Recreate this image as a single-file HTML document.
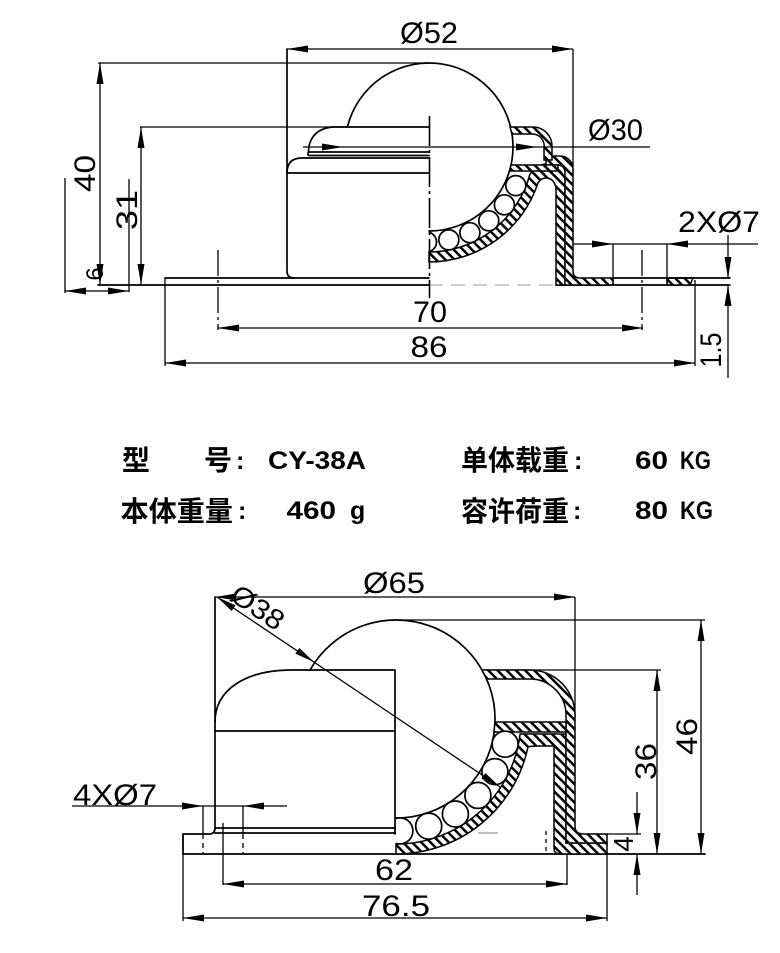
<!DOCTYPE html>
<html><head><meta charset="utf-8">
<style>
html,body{margin:0;padding:0;background:#fff;}
svg{display:block;}
.l{stroke:#000;stroke-width:1.7;fill:none;stroke-linecap:round;stroke-linejoin:round}
.d{stroke:#000;stroke-width:1.3;fill:none}
.h{stroke:#000;stroke-width:1.5;fill:url(#hp)}
.t{font-family:"Liberation Sans",sans-serif;font-size:30px;fill:#000}
.b{font-family:"Liberation Sans","Noto Sans CJK SC",sans-serif;font-weight:bold;fill:#000}
.c{font-family:"Noto Sans CJK SC","WenQuanYi Zen Hei",sans-serif;font-weight:bold;font-size:28px;fill:#000}
</style></head><body>
<svg width="780" height="953" viewBox="0 0 780 953" xmlns="http://www.w3.org/2000/svg">
<defs>
<pattern id="hp" patternUnits="userSpaceOnUse" width="6.5" height="6.5" patternTransform="rotate(-45)">
<rect width="6.5" height="6.5" fill="#fff"/><rect width="2.5" height="6.5" fill="#000"/>
</pattern>
<clipPath id="ct"><rect x="429" y="0" width="300" height="400"/></clipPath>
<clipPath id="cb"><rect x="396" y="560" width="300" height="400"/></clipPath>
</defs>
<rect width="780" height="953" fill="#fff"/>

<!-- ================= TOP DRAWING ================= -->
<line class="d" x1="287" y1="49" x2="573" y2="49"/>
<polygon points="287,49 308,45.5 308,52.5"/>
<polygon points="573,49 552,45.5 552,52.5"/>
<line class="d" x1="573" y1="49" x2="573" y2="170"/>
<line class="d" x1="98" y1="63" x2="429" y2="63"/>
<line class="d" x1="140" y1="127" x2="346" y2="127"/>
<line class="d" x1="100" y1="63" x2="100" y2="285"/>
<polygon points="100,63 96.5,84 103.5,84"/>
<polygon points="100,285 96.5,264 103.5,264"/>
<line class="d" x1="141" y1="127" x2="141" y2="285"/>
<polygon points="141,127 137.5,148 144.5,148"/>
<polygon points="141,285 137.5,264 144.5,264"/>
<line class="d" x1="65" y1="178" x2="65" y2="293"/>
<line class="d" x1="129" y1="179" x2="129" y2="292"/>
<line class="d" x1="65" y1="291" x2="129" y2="291"/>
<polygon points="65,291 86,287.5 86,294.5"/>
<polygon points="129,291 108,287.5 108,294.5"/>
<text class="t" style="font-size:24px" transform="translate(103,274) rotate(-90)" text-anchor="middle">6</text>
<text class="t" transform="translate(95,173.5) rotate(-90)" text-anchor="middle" textLength="37" lengthAdjust="spacingAndGlyphs">40</text>
<text class="t" transform="translate(137,210) rotate(-90)" text-anchor="middle" textLength="40" lengthAdjust="spacingAndGlyphs">31</text>
<text class="t" x="429" y="43" text-anchor="middle" textLength="58" lengthAdjust="spacingAndGlyphs">Ø52</text>
<text class="t" x="615.5" y="140" text-anchor="middle" textLength="55" lengthAdjust="spacingAndGlyphs">Ø30</text>
<text class="t" x="719" y="232" text-anchor="middle" textLength="82" lengthAdjust="spacingAndGlyphs">2XØ7</text>

<path class="l" d="M287 49 L287 271 Q287 278 294 278"/>
<line class="l" x1="165" y1="278" x2="429" y2="278"/>
<line class="l" x1="98" y1="285" x2="429" y2="285"/>
<line x1="429" y1="285" x2="556" y2="285" stroke="#bbb" stroke-width="1.5" stroke-dasharray="14 8"/>
<line class="l" x1="556" y1="285" x2="730" y2="285"/>
<line class="d" x1="165" y1="278" x2="165" y2="366"/>
<path class="l" d="M287 173 Q287 158 302 158 L429 158"/>
<line class="l" x1="287" y1="173" x2="429" y2="173"/>
<line class="l" x1="309" y1="152" x2="429" y2="152"/>
<line class="l" x1="309" y1="155.5" x2="429" y2="155.5"/>
<path class="l" d="M308 155 L309 146 Q313 129 332 127 L429 127"/>
<path class="l" d="M347.4 127 A84 84 0 1 1 429 231"/>
<path class="h" d="M429 252 A105 105 0 0 0 530 174 Q541 160 553 166 Q565 172 565 182 L565 285 L556 285 L556 188 Q554 178 546 178 Q541 178 538 183 A115 115 0 0 1 429 262 Z"/>
<path class="h" d="M546 156 L560 156 A13 13 0 0 1 573 169 L573 271 Q573 278 580 278 L613 278 L613 285 L565 285 L565 172 A7 7 0 0 0 558 165 L546 165 Z"/>
<path class="h" d="M510 127 L533 127 A19 19 0 0 1 552 146 L552 160 L544 160 L544 148 A12 12 0 0 0 532 134 L512 134 Z"/>
<path class="h" d="M511 165 L558 165 L558 171 L509.5 171 Z"/>
<path class="h" d="M667 278 L693 278 L690 285 L667 285 Z"/>
<g class="l" clip-path="url(#ct)" style="fill:#fff">
<circle cx="515.8" cy="185.6" r="10"/>
<circle cx="504.4" cy="204.8" r="10"/>
<circle cx="488.8" cy="220.8" r="10"/>
<circle cx="469.9" cy="232.7" r="10"/>
<circle cx="448.8" cy="239.9" r="10"/>
<circle cx="426.5" cy="242" r="10"/>
</g>
<line x1="429.5" y1="116" x2="429.5" y2="298" stroke="#000" stroke-width="1.6" stroke-dasharray="30 4 3 4"/>
<line class="d" x1="303" y1="147" x2="650" y2="147"/>
<polygon points="343,147 322,143.5 322,150.5"/>
<polygon points="537,147 516,143.5 516,150.5"/>
<line class="l" x1="613" y1="278" x2="730" y2="278"/>
<line class="d" x1="573" y1="244" x2="758" y2="244"/>
<polygon points="613,244 592,240.5 592,247.5"/>
<polygon points="667,244 688,240.5 688,247.5"/>
<line class="d" x1="613" y1="244" x2="613" y2="285"/>
<line class="d" x1="667" y1="244" x2="667" y2="285"/>
<line x1="642" y1="250" x2="642" y2="330" stroke="#000" stroke-width="1.3" stroke-dasharray="26 4 3 4"/>
<line x1="218" y1="250" x2="218" y2="330" stroke="#000" stroke-width="1.3" stroke-dasharray="26 4 3 4"/>
<line class="d" x1="695" y1="280" x2="695" y2="366"/>
<line class="d" x1="218" y1="328" x2="643" y2="328"/>
<polygon points="218,328 239,324.5 239,331.5"/>
<polygon points="643,328 622,324.5 622,331.5"/>
<text class="t" x="430" y="322" text-anchor="middle" textLength="34" lengthAdjust="spacingAndGlyphs">70</text>
<line class="d" x1="165" y1="363" x2="695" y2="363"/>
<polygon points="165,363 186,359.5 186,366.5"/>
<polygon points="695,363 674,359.5 674,366.5"/>
<text class="t" x="429" y="357" text-anchor="middle" textLength="37" lengthAdjust="spacingAndGlyphs">86</text>
<line class="d" x1="728" y1="235" x2="728" y2="278"/>
<polygon points="728,278 724.5,257 731.5,257"/>
<line class="d" x1="728" y1="285" x2="728" y2="378"/>
<polygon points="728,285 724.5,306 731.5,306"/>
<text class="t" transform="translate(721,350) rotate(-90)" text-anchor="middle" textLength="35" lengthAdjust="spacingAndGlyphs">1.5</text>

<!-- ================= INFO TEXT ================= -->
<text class="c" x="122" y="470">型</text>
<text class="c" x="204" y="470">号</text>
<text class="b" x="236" y="469" style="font-size:25px">:</text>
<text class="b" x="268" y="469" style="font-size:25px" textLength="98" lengthAdjust="spacingAndGlyphs">CY-38A</text>
<text class="c" x="461" y="470" textLength="108" lengthAdjust="spacingAndGlyphs">单体载重</text>
<text class="b" x="574" y="469" style="font-size:25px">:</text>
<text class="b" x="635" y="469" style="font-size:25px" textLength="33" lengthAdjust="spacingAndGlyphs">60</text>
<text class="b" x="680" y="469" style="font-size:25px" textLength="31" lengthAdjust="spacingAndGlyphs">KG</text>

<text class="c" x="120.5" y="521" textLength="112.5" lengthAdjust="spacingAndGlyphs">本体重量</text>
<text class="b" x="238" y="519" style="font-size:25px">:</text>
<text class="b" x="286.5" y="519" style="font-size:25px" textLength="49.5" lengthAdjust="spacingAndGlyphs">460</text>
<text class="b" x="350" y="519" style="font-size:25px">g</text>
<text class="c" x="461" y="521" textLength="108" lengthAdjust="spacingAndGlyphs">容许荷重</text>
<text class="b" x="573" y="519" style="font-size:25px">:</text>
<text class="b" x="635" y="519" style="font-size:25px" textLength="33" lengthAdjust="spacingAndGlyphs">80</text>
<text class="b" x="680" y="519" style="font-size:25px" textLength="33" lengthAdjust="spacingAndGlyphs">KG</text>

<!-- ================= BOTTOM DRAWING ================= -->
<line class="d" x1="215" y1="597" x2="575" y2="597"/>
<polygon points="215,597 236,593.5 236,600.5"/>
<polygon points="575,597 554,593.5 554,600.5"/>
<line class="d" x1="575" y1="597" x2="575" y2="715"/>
<text class="t" x="394" y="593" text-anchor="middle" textLength="62" lengthAdjust="spacingAndGlyphs">Ø65</text>
<line class="d" x1="396" y1="620" x2="705" y2="620"/>
<line class="d" x1="482" y1="670" x2="661" y2="670"/>
<line class="d" x1="607" y1="834" x2="641" y2="834"/>
<path class="l" d="M215 597 L215 828 Q215 834 209 834 L183 834"/>
<line class="d" x1="183" y1="834" x2="183" y2="921"/>
<line class="l" x1="183" y1="834" x2="183" y2="854"/>
<line class="l" x1="183" y1="854" x2="705" y2="854"/>
<line class="l" x1="215" y1="828" x2="396" y2="828"/>
<line class="l" x1="215" y1="833" x2="396" y2="833"/>
<path class="l" d="M215 722 C215 690 245 670 292 670 L395 670 L395 834"/>
<line class="l" x1="215" y1="731" x2="395" y2="731"/>
<path class="l" d="M310 670 A99 99 0 1 1 396 818"/>
<path class="h" d="M396 844 A125 125 0 0 0 520.1 734 L566 734 L566 843 L607 843 L607 854 L560 854 Q554 854 554 848 L554 746 L538 746 Q531 746 528 747 A135 135 0 0 1 396 854 Z"/>
<path class="h" d="M482 670 L530 670 A45 45 0 0 1 575 715 L575 826 Q575 834 583 834 L607 834 L607 843 L566 843 L566 715 A36 36 0 0 0 530 679 L486.6 679 Z"/>
<path class="h" d="M495 722 L566 722 L566 732 L494 732 Z"/>
<g class="l" clip-path="url(#cb)" style="fill:#fff">
<circle cx="505.1" cy="744.2" r="13"/>
<circle cx="494.9" cy="771.6" r="13"/>
<circle cx="477.9" cy="795.4" r="13"/>
<circle cx="455.4" cy="814" r="13"/>
<circle cx="428.7" cy="826.1" r="13"/>
<circle cx="399.9" cy="830.9" r="13"/>
</g>
<line x1="546" y1="831" x2="546" y2="854" stroke="#000" stroke-width="1.3" stroke-dasharray="4 4"/>
<line x1="478" y1="833" x2="498" y2="833" stroke="#999" stroke-width="1.2"/>
<line class="d" x1="217" y1="597" x2="500" y2="787"/>
<polygon points="217,597 231.65,611 235.55,605.2"/>
<polygon points="314,662 295.45,653.8 299.35,648"/>
<polygon points="500,787 481.45,778.8 485.35,773"/>
<g transform="translate(258,607) rotate(34)"><text class="t" style="font-size:28px" x="0" y="10" text-anchor="middle" textLength="58" lengthAdjust="spacingAndGlyphs">Ø38</text></g>
<line class="d" x1="72" y1="806" x2="287" y2="806"/>
<polygon points="203,806 182,802.5 182,809.5"/>
<polygon points="243,806 264,802.5 264,809.5"/>
<line class="d" x1="203" y1="806" x2="203" y2="834"/>
<line class="d" x1="243" y1="806" x2="243" y2="834"/>
<line x1="203" y1="834" x2="203" y2="854" stroke="#000" stroke-width="1.3" stroke-dasharray="5 4"/>
<line x1="243" y1="834" x2="243" y2="854" stroke="#000" stroke-width="1.3" stroke-dasharray="5 4"/>
<text class="t" x="115" y="805" text-anchor="middle" textLength="84" lengthAdjust="spacingAndGlyphs">4XØ7</text>
<line class="d" x1="223" y1="823" x2="223" y2="885"/>
<line class="d" x1="567" y1="854" x2="567" y2="885"/>
<line class="d" x1="223" y1="884" x2="567" y2="884"/>
<polygon points="223,884 244,880.5 244,887.5"/>
<polygon points="567,884 546,880.5 546,887.5"/>
<text class="t" x="394" y="880" text-anchor="middle" textLength="38" lengthAdjust="spacingAndGlyphs">62</text>
<line class="d" x1="607" y1="854" x2="607" y2="921"/>
<line class="d" x1="183" y1="918" x2="607" y2="918"/>
<polygon points="183,918 204,914.5 204,921.5"/>
<polygon points="607,918 586,914.5 586,921.5"/>
<text class="t" x="396" y="916" text-anchor="middle" textLength="68" lengthAdjust="spacingAndGlyphs">76.5</text>
<line class="d" x1="637" y1="792" x2="637" y2="834"/>
<polygon points="637,834 633.5,813 640.5,813"/>
<line class="d" x1="637" y1="854" x2="637" y2="895"/>
<polygon points="637,854 633.5,875 640.5,875"/>
<text class="t" style="font-size:28px" transform="translate(633,844) rotate(-90)" text-anchor="middle">4</text>
<line class="d" x1="657" y1="670" x2="657" y2="854"/>
<polygon points="657,670 653.5,691 660.5,691"/>
<polygon points="657,854 653.5,833 660.5,833"/>
<text class="t" transform="translate(656,761.5) rotate(-90)" text-anchor="middle" textLength="37" lengthAdjust="spacingAndGlyphs">36</text>
<line class="d" x1="701" y1="620" x2="701" y2="854"/>
<polygon points="701,620 697.5,641 704.5,641"/>
<polygon points="701,854 697.5,833 704.5,833"/>
<text class="t" transform="translate(697,736.5) rotate(-90)" text-anchor="middle" textLength="37" lengthAdjust="spacingAndGlyphs">46</text>
</svg>
</body></html>
